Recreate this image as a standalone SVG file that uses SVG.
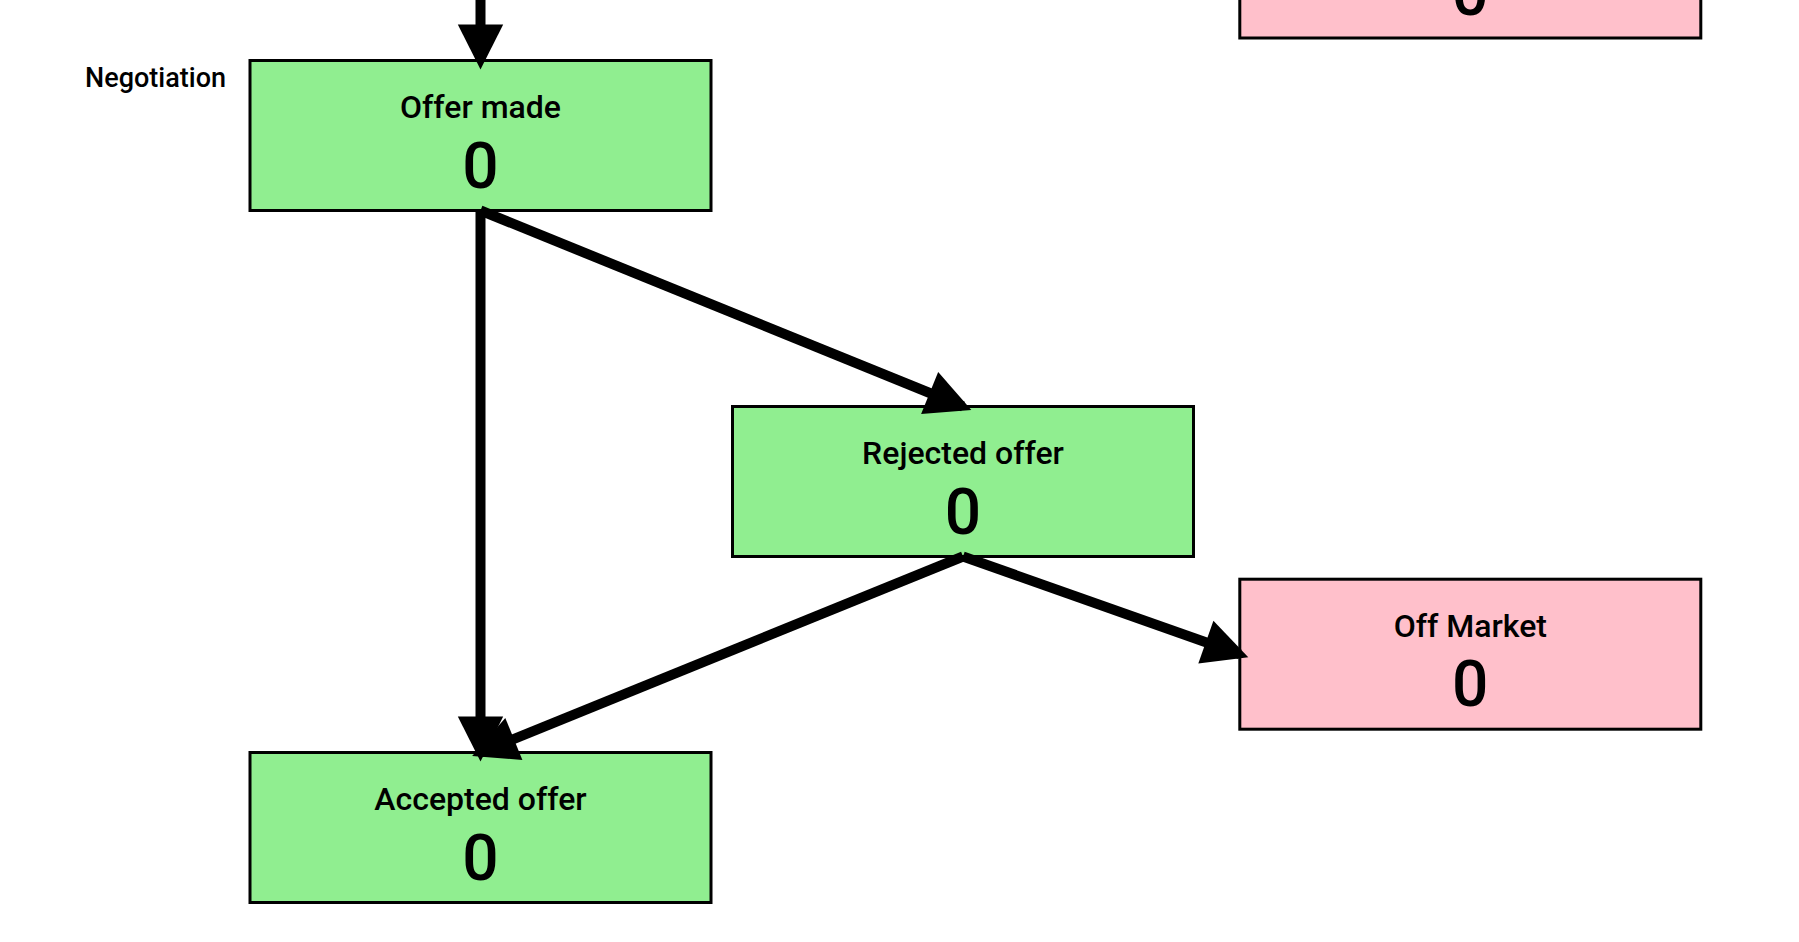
<svg xmlns="http://www.w3.org/2000/svg" width="1799" height="942" viewBox="0 0 1799 942">
  <style>
    .box { stroke: #000; stroke-width: 3; }
    .green { fill: #90EE90; }
    .pink { fill: #FFC0CB; }
    .label { font-family: Roboto, "Liberation Sans", sans-serif; font-weight: 500; font-size: 32px; fill: #000; text-anchor: middle; }
    .num { font-family: Roboto, "Liberation Sans", sans-serif; font-weight: 500; font-size: 64px; fill: #000; text-anchor: middle; }
    .lane { font-family: Roboto, "Liberation Sans", sans-serif; font-weight: 500; font-size: 27px; fill: #000; text-anchor: end; }
    .edge { stroke: #000; stroke-width: 10; fill: none; marker-end: url(#arrow); }
  </style>
  <defs>
    <marker id="arrow" markerUnits="userSpaceOnUse" markerWidth="46" markerHeight="46" refX="36" refY="22.7" orient="auto" overflow="visible">
      <path d="M0,0 L45,22.7 L0,45.4 Z" fill="#000"/>
    </marker>
  </defs>
  <rect width="1799" height="942" fill="#fff"/>
  <text class="lane" x="226" y="86.5">Negotiation</text>
  <g id="node-top">
    <rect class="box pink" x="1239.8" y="-112" width="461" height="150"/>
    <text class="num" x="1470.3" y="14.5">0</text>
  </g>
  <g id="node-offer-made">
    <rect class="box green" x="250" y="60.5" width="461" height="150"/>
    <text class="label" x="480.5" y="118">Offer made</text>
    <text class="num" x="480.5" y="187.5">0</text>
  </g>
  <g id="node-rejected-offer">
    <rect class="box green" x="732.5" y="406.5" width="461" height="150"/>
    <text class="label" x="963" y="464">Rejected offer</text>
    <text class="num" x="963" y="533.5">0</text>
  </g>
  <g id="node-off-market">
    <rect class="box pink" x="1239.8" y="579.2" width="461" height="150"/>
    <text class="label" x="1470.3" y="636.7">Off Market</text>
    <text class="num" x="1470.3" y="706.2">0</text>
  </g>
  <g id="node-accepted-offer">
    <rect class="box green" x="250" y="752.5" width="461" height="150"/>
    <text class="label" x="480.5" y="810">Accepted offer</text>
    <text class="num" x="480.5" y="879.5">0</text>
  </g>
  <g id="connectors">
    <line class="edge" x1="480.5" y1="-30" x2="480.5" y2="60.5"/>
    <line class="edge" x1="480.5" y1="210.5" x2="480.5" y2="752.5"/>
    <line class="edge" x1="480.5" y1="210.5" x2="963" y2="406.5"/>
    <line class="edge" x1="963" y1="556.5" x2="480.5" y2="752.5"/>
    <line class="edge" x1="963" y1="556.5" x2="1239.8" y2="654.2"/>
  </g>
</svg>
